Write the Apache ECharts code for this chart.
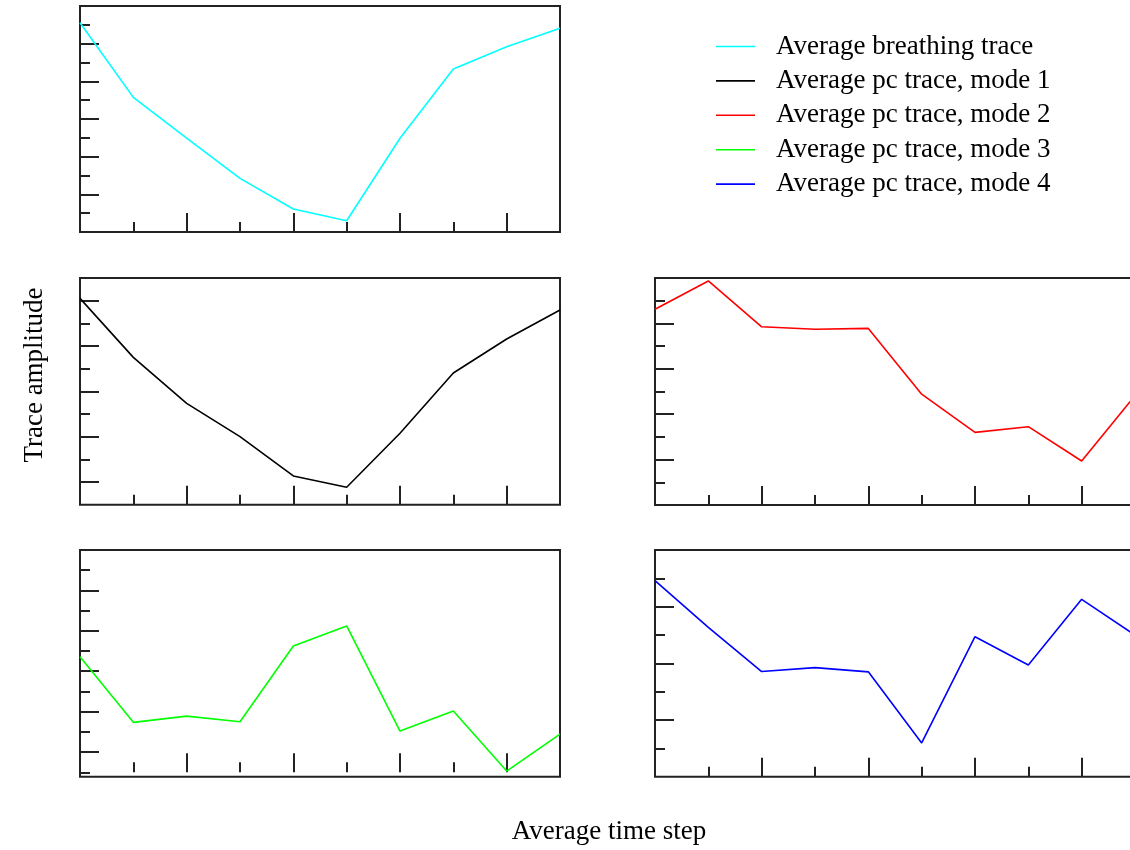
<!DOCTYPE html>
<html>
<head>
<meta charset="utf-8">
<script src="https://cdn.jsdelivr.net/npm/echarts@6/dist/echarts.min.js"></script>
<style>
  html, body { margin: 0; padding: 0; background: #ffffff; }
  #chart { width: 1130px; height: 850px; }
</style>
</head>
<body>
<div id="chart"></div>
<script>
// ---- data ----
const timeSteps = [0, 1, 2, 3, 4, 5, 6, 7, 8, 9];
const breathing = [11.11, 7.15, 4.98, 2.85, 1.22, 0.60, 4.98, 8.66, 9.84, 10.82];
const mode1 = [9.10, 6.50, 4.47, 3.00, 1.27, 0.77, 3.15, 5.81, 7.31, 8.59];
const mode2 = [8.62, 9.87, 7.85, 7.74, 7.78, 4.88, 3.20, 3.45, 1.94, 4.82];
const mode3 = [5.72, 2.47, 2.78, 2.50, 6.25, 7.24, 2.04, 3.03, 0.06, 1.89];
const mode4 = [6.92, 5.27, 3.71, 3.85, 3.70, 1.19, 4.94, 3.94, 6.26, 5.00];

const seriesNames = [
  'Average breathing trace',
  'Average pc trace, mode 1',
  'Average pc trace, mode 2',
  'Average pc trace, mode 3',
  'Average pc trace, mode 4'
];
const seriesColors = ['#00ffff', '#000000', '#ff0000', '#00ff00', '#0000ff'];

// tick values
const xMajorTicks = [0, 2, 4, 6, 8];
const xMinorTicks = [1, 3, 5, 7];
const yRangeBreathing = [0, 12];
const yMajorBreathing = [2, 4, 6, 8, 10, 12];
const yMinorBreathing = [1, 3, 5, 7, 9, 11];
const yRangeMode1 = [0, 10];
const yMajorMode1 = [1, 3, 5, 7, 9];
const yMinorMode1 = [2, 4, 6, 8, 10];
const yRangeMode2 = [0, 10];
const yMajorMode2 = [2, 4, 6, 8, 10];
const yMinorMode2 = [1, 3, 5, 7, 9];
const yRangeMode3 = [-0.22, 11];
const yMajorMode3 = [1, 3, 5, 7, 9, 11];
const yMinorMode3 = [0, 2, 4, 6, 8, 10];
const yRangeMode4 = [0, 8];
const yMajorMode4 = [2, 4, 6, 8];
const yMinorMode4 = [1, 3, 5, 7];

// ---- layout ----
const panels = [
  { data: breathing, range: yRangeBreathing, major: yMajorBreathing, minor: yMinorBreathing, left: 80,  top: 6,   height: 226 },
  { data: mode1,     range: yRangeMode1,     major: yMajorMode1,     minor: yMinorMode1,     left: 80,  top: 278, height: 226.7 },
  { data: mode2,     range: yRangeMode2,     major: yMajorMode2,     minor: yMinorMode2,     left: 655, top: 278, height: 227 },
  { data: mode3,     range: yRangeMode3,     major: yMajorMode3,     minor: yMinorMode3,     left: 80,  top: 550, height: 226.7 },
  { data: mode4,     range: yRangeMode4,     major: yMajorMode4,     minor: yMinorMode4,     left: 655, top: 550, height: 226.7 }
];

const axisColor = '#222222';
const font = "'Liberation Serif', 'Times New Roman', serif";

const grids = [], xAxes = [], yAxes = [], series = [];
panels.forEach((p, i) => {
  grids.push({
    left: p.left, width: 480, top: p.top, height: p.height,
    outerBoundsMode: 'none', containLabel: false,
    show: true, borderColor: axisColor, borderWidth: 2, backgroundColor: 'transparent'
  });
  const tickAxis = (vals, len) => ({
    show: true, inside: true, length: len, customValues: vals,
    lineStyle: { color: axisColor, width: 2 }
  });
  [[xMajorTicks, 19], [xMinorTicks, 10]].forEach(([vals, len]) => {
    xAxes.push({
      type: 'value', gridIndex: i, min: 0, max: 9, position: 'bottom',
      axisLine: { show: false }, axisLabel: { show: false }, splitLine: { show: false },
      axisTick: tickAxis(vals, len)
    });
  });
  [[p.major, 19], [p.minor, 10]].forEach(([vals, len]) => {
    yAxes.push({
      type: 'value', gridIndex: i, min: p.range[0], max: p.range[1], position: 'left',
      axisLine: { show: false }, axisLabel: { show: false }, splitLine: { show: false },
      axisTick: tickAxis(vals, len)
    });
  });
  series.push({
    name: seriesNames[i], type: 'line', xAxisIndex: i * 2, yAxisIndex: i * 2,
    symbol: 'none', color: seriesColors[i],
    lineStyle: { width: 1.6, color: seriesColors[i] },
    data: timeSteps.map((t, k) => [t, p.data[k]]),
    animation: false
  });
});

const chart = echarts.init(document.getElementById('chart'), null, { renderer: 'canvas' });
chart.setOption({
  animation: false,
  backgroundColor: '#ffffff',
  grid: grids,
  xAxis: xAxes,
  yAxis: yAxes,
  series: series,
  legend: {
    orient: 'vertical', left: 716, top: 33, padding: 0,
    icon: 'rect', itemWidth: 39, itemHeight: 1.6, itemGap: 7.4,
    data: seriesNames,
    textStyle: { fontFamily: font, fontSize: 27, color: '#000', lineHeight: 26, padding: [0, 0, 0, 16] }
  },
  graphic: [
    { type: 'text', x: 35, y: 375, rotation: Math.PI / 2,
      style: { text: 'Trace amplitude', font: "27px " + font, fill: '#000', textAlign: 'center', textVerticalAlign: 'middle' } },
    { type: 'text', x: 609, y: 832,
      style: { text: 'Average time step', font: "27px " + font, fill: '#000', textAlign: 'center', textVerticalAlign: 'middle' } }
  ]
});
</script>
</body>
</html>
